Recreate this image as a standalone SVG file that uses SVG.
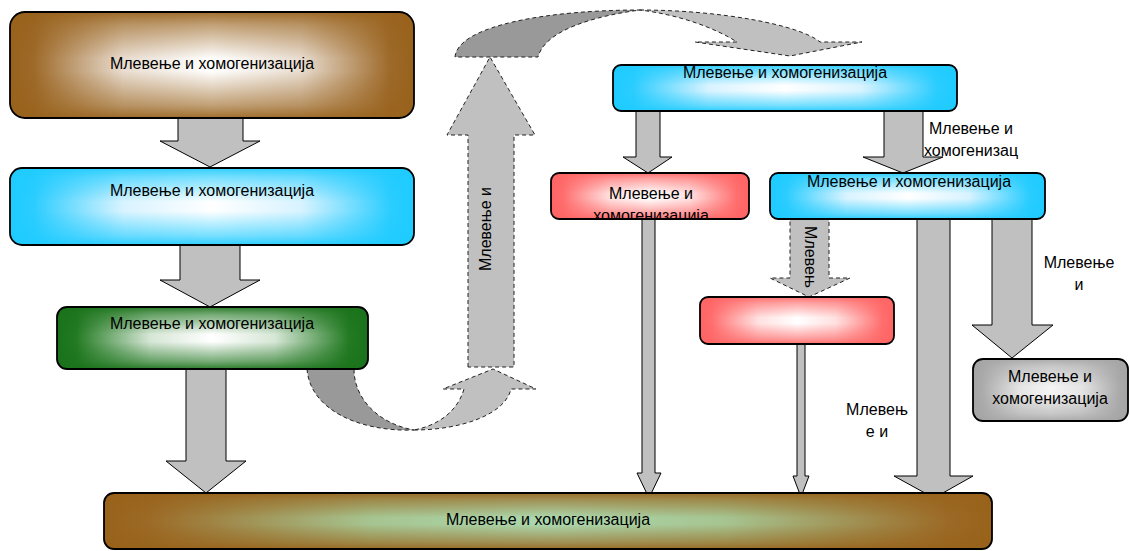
<svg xmlns="http://www.w3.org/2000/svg" width="1129" height="551" viewBox="0 0 1129 551">
<defs>
<linearGradient id="hBrown" x1="0" y1="0" x2="1" y2="0"><stop offset="0" stop-color="#98621c"/><stop offset="0.06" stop-color="#9e6a2a"/><stop offset="0.28" stop-color="#e8dccf"/><stop offset="0.5" stop-color="#ffffff"/><stop offset="0.72" stop-color="#e8dccf"/><stop offset="0.94" stop-color="#9e6a2a"/><stop offset="1" stop-color="#98621c"/></linearGradient>
<linearGradient id="vBrown" x1="0" y1="0" x2="0" y2="1"><stop offset="0" stop-color="#98621c" stop-opacity="0.92"/><stop offset="0.12" stop-color="#98621c" stop-opacity="0.6"/><stop offset="0.44" stop-color="#98621c" stop-opacity="0"/><stop offset="0.56" stop-color="#98621c" stop-opacity="0"/><stop offset="0.88" stop-color="#98621c" stop-opacity="0.6"/><stop offset="1" stop-color="#98621c" stop-opacity="0.92"/></linearGradient>
<linearGradient id="hBlue" x1="0" y1="0" x2="1" y2="0"><stop offset="0" stop-color="#1ecbff"/><stop offset="0.06" stop-color="#2ccdff"/><stop offset="0.28" stop-color="#d8f3ff"/><stop offset="0.5" stop-color="#ffffff"/><stop offset="0.72" stop-color="#d8f3ff"/><stop offset="0.94" stop-color="#2ccdff"/><stop offset="1" stop-color="#1ecbff"/></linearGradient>
<linearGradient id="vBlue" x1="0" y1="0" x2="0" y2="1"><stop offset="0" stop-color="#1ecbff" stop-opacity="0.92"/><stop offset="0.12" stop-color="#1ecbff" stop-opacity="0.6"/><stop offset="0.44" stop-color="#1ecbff" stop-opacity="0"/><stop offset="0.56" stop-color="#1ecbff" stop-opacity="0"/><stop offset="0.88" stop-color="#1ecbff" stop-opacity="0.6"/><stop offset="1" stop-color="#1ecbff" stop-opacity="0.92"/></linearGradient>
<linearGradient id="hGreen" x1="0" y1="0" x2="1" y2="0"><stop offset="0" stop-color="#1a721a"/><stop offset="0.06" stop-color="#227a22"/><stop offset="0.3" stop-color="#d6e6d6"/><stop offset="0.5" stop-color="#ffffff"/><stop offset="0.7" stop-color="#d6e6d6"/><stop offset="0.94" stop-color="#227a22"/><stop offset="1" stop-color="#1a721a"/></linearGradient>
<linearGradient id="vGreen" x1="0" y1="0" x2="0" y2="1"><stop offset="0" stop-color="#1a721a" stop-opacity="0.92"/><stop offset="0.12" stop-color="#1a721a" stop-opacity="0.6"/><stop offset="0.44" stop-color="#1a721a" stop-opacity="0"/><stop offset="0.56" stop-color="#1a721a" stop-opacity="0"/><stop offset="0.88" stop-color="#1a721a" stop-opacity="0.6"/><stop offset="1" stop-color="#1a721a" stop-opacity="0.92"/></linearGradient>
<linearGradient id="hRed" x1="0" y1="0" x2="1" y2="0"><stop offset="0" stop-color="#ff6464"/><stop offset="0.06" stop-color="#ff6e6e"/><stop offset="0.3" stop-color="#ffe0e0"/><stop offset="0.5" stop-color="#ffffff"/><stop offset="0.7" stop-color="#ffe0e0"/><stop offset="0.94" stop-color="#ff6e6e"/><stop offset="1" stop-color="#ff6464"/></linearGradient>
<linearGradient id="vRed" x1="0" y1="0" x2="0" y2="1"><stop offset="0" stop-color="#ff6464" stop-opacity="0.92"/><stop offset="0.12" stop-color="#ff6464" stop-opacity="0.6"/><stop offset="0.44" stop-color="#ff6464" stop-opacity="0"/><stop offset="0.56" stop-color="#ff6464" stop-opacity="0"/><stop offset="0.88" stop-color="#ff6464" stop-opacity="0.6"/><stop offset="1" stop-color="#ff6464" stop-opacity="0.92"/></linearGradient>
<linearGradient id="hGray" x1="0" y1="0" x2="1" y2="0"><stop offset="0" stop-color="#a4a4a4"/><stop offset="0.06" stop-color="#ababab"/><stop offset="0.3" stop-color="#e4e4e4"/><stop offset="0.5" stop-color="#f4f4f4"/><stop offset="0.7" stop-color="#e4e4e4"/><stop offset="0.94" stop-color="#ababab"/><stop offset="1" stop-color="#a4a4a4"/></linearGradient>
<linearGradient id="vGray" x1="0" y1="0" x2="0" y2="1"><stop offset="0" stop-color="#a4a4a4" stop-opacity="0.9"/><stop offset="0.12" stop-color="#a4a4a4" stop-opacity="0.55"/><stop offset="0.44" stop-color="#a4a4a4" stop-opacity="0"/><stop offset="0.56" stop-color="#a4a4a4" stop-opacity="0"/><stop offset="0.88" stop-color="#a4a4a4" stop-opacity="0.55"/><stop offset="1" stop-color="#a4a4a4" stop-opacity="0.9"/></linearGradient>
<linearGradient id="hBottom" x1="0" y1="0" x2="1" y2="0"><stop offset="0" stop-color="#98621a"/><stop offset="0.05" stop-color="#9c6a26"/><stop offset="0.3" stop-color="#a6c490"/><stop offset="0.5" stop-color="#acd8ae"/><stop offset="0.7" stop-color="#a6c490"/><stop offset="0.95" stop-color="#9c6a26"/><stop offset="1" stop-color="#98621a"/></linearGradient>
<linearGradient id="vBottom" x1="0" y1="0" x2="0" y2="1"><stop offset="0" stop-color="#98621a" stop-opacity="0.9"/><stop offset="0.12" stop-color="#98621a" stop-opacity="0.6"/><stop offset="0.44" stop-color="#98621a" stop-opacity="0"/><stop offset="0.56" stop-color="#98621a" stop-opacity="0"/><stop offset="0.88" stop-color="#98621a" stop-opacity="0.6"/><stop offset="1" stop-color="#98621a" stop-opacity="0.9"/></linearGradient>
<clipPath id="clipRed1"><rect x="551" y="173" width="198" height="46" rx="8"/></clipPath>
</defs>
<style>
.box{fill:none;stroke:#000;stroke-width:1.8}
.t{font-family:"Liberation Sans",Arial,sans-serif;font-size:16px;fill:#000;text-anchor:middle}
.arr{fill:#c0c0c0;stroke:#000;stroke-width:1}
.darr{fill:#c0c0c0;stroke:#222;stroke-width:1;stroke-dasharray:4,3}
.ddark{fill:#999999;stroke:#222;stroke-width:1;stroke-dasharray:4,3}
</style>

<g id="connectors">
  <polygon class="arr" points="178,118 243,118 243,141 260,141 210,167 160,141 178,141"/>
  <polygon class="arr" points="180,245 240,245 240,280 260,280 210,307 160,280 180,280"/>
  <polygon class="arr" points="186,369 226,369 226,461 246,461 206,493 166,461 186,461"/>
  <g id="curve-up">
    <path class="ddark" d="M307,369 C310,410 360,432 414,430 C380,424 354,400 354,369 Z"/>
    <path class="darr" d="M414,430 C460,430 505,415 511,389 L536,389 L493,369 L443,389 L464,389 C458,410 440,425 414,430 Z"/>
  </g>
  <g id="dashed-up">
    <polygon class="darr" points="468,367 468,135 447,135 490,57 535,135 514,135 514,367"/>
    <text class="t" transform="translate(491,229) rotate(-90)">Млевење и</text>
  </g>
  <g id="curve-down">
    <path class="ddark" d="M455,57 C458,25 550,10 640,10 C595,16 545,30 538,57 Z"/>
    <path class="darr" d="M640,10 C720,10 800,25 820,42 L862,42 L790,56 L695,42 L737,42 C715,28 680,15 640,10 Z"/>
  </g>
  <polygon class="arr" points="636,111 660,111 660,157 672,157 648,173 623,157 636,157"/>
  <polygon class="arr" points="884,111 923,111 923,157 943,157 903,173 863,157 884,157"/>
  <text class="t" x="971" y="134">Млевење и</text>
  <text class="t" x="971" y="156">хомогенизац</text>
  <polygon class="arr" points="642,219 655,219 655,473 661,473 649,498 637,473 642,473"/>
  <g id="dashed-down">
    <polygon class="darr" points="790,219 829,219 829,278 850,278 809,297 770,278 790,278"/>
    <text class="t" transform="translate(805,257) rotate(90)">Млевењ</text>
  </g>
  <polygon class="arr" points="797,344 805,344 805,476 809,476 801,497 793,476 797,476"/>
  <polygon class="arr" points="917,219 950,219 950,476 973,476 934,498 894,476 917,476"/>
  <text class="t" x="877" y="415">Млевењ</text>
  <text class="t" x="877" y="437">е и</text>
  <polygon class="arr" points="992,219 1032,219 1032,325 1053,325 1012,358 972,325 992,325"/>
  <text class="t" x="1079" y="268">Млевење</text>
  <text class="t" x="1079" y="290">и</text>
</g>

<g id="node1">
  <rect x="10" y="12" width="404" height="106" rx="15" fill="url(#hBrown)"/>
  <rect x="10" y="12" width="404" height="106" rx="15" fill="url(#vBrown)"/>
  <rect class="box" x="10" y="12" width="404" height="106" rx="15"/>
  <text class="t" x="212" y="69">Млевење и хомогенизација</text>
</g>
<g id="node2">
  <rect x="10" y="168" width="404" height="77" rx="12" fill="url(#hBlue)"/>
  <rect x="10" y="168" width="404" height="77" rx="12" fill="url(#vBlue)"/>
  <rect class="box" x="10" y="168" width="404" height="77" rx="12"/>
  <text class="t" x="212" y="196">Млевење и хомогенизација</text>
</g>
<g id="node3">
  <rect x="57" y="307" width="311" height="62" rx="10" fill="url(#hGreen)"/>
  <rect x="57" y="307" width="311" height="62" rx="10" fill="url(#vGreen)"/>
  <rect class="box" x="57" y="307" width="311" height="62" rx="10"/>
  <text class="t" x="212" y="329">Млевење и хомогенизација</text>
</g>
<g id="node4">
  <rect x="613" y="65" width="344" height="46" rx="8" fill="url(#hBlue)"/>
  <rect x="613" y="65" width="344" height="46" rx="8" fill="url(#vBlue)"/>
  <rect class="box" x="613" y="65" width="344" height="46" rx="8"/>
  <text class="t" x="785" y="78">Млевење и хомогенизација</text>
</g>
<g id="node5">
  <rect x="551" y="173" width="198" height="46" rx="8" fill="url(#hRed)"/>
  <rect x="551" y="173" width="198" height="46" rx="8" fill="url(#vRed)"/>
  <rect class="box" x="551" y="173" width="198" height="46" rx="8"/>
  <g clip-path="url(#clipRed1)">
    <text class="t" x="651" y="199">Млевење и</text>
    <text class="t" x="651" y="221">хомогенизација</text>
  </g>
</g>
<g id="node6">
  <rect x="770" y="173" width="275" height="46" rx="8" fill="url(#hBlue)"/>
  <rect x="770" y="173" width="275" height="46" rx="8" fill="url(#vBlue)"/>
  <rect class="box" x="770" y="173" width="275" height="46" rx="8"/>
  <text class="t" x="909" y="187">Млевење и хомогенизација</text>
</g>
<g id="node7">
  <rect x="700" y="297" width="194" height="47" rx="8" fill="url(#hRed)"/>
  <rect x="700" y="297" width="194" height="47" rx="8" fill="url(#vRed)"/>
  <rect class="box" x="700" y="297" width="194" height="47" rx="8"/>
</g>
<g id="node8">
  <rect x="973" y="359" width="155" height="62" rx="10" fill="url(#hGray)"/>
  <rect x="973" y="359" width="155" height="62" rx="10" fill="url(#vGray)"/>
  <rect class="box" x="973" y="359" width="155" height="62" rx="10"/>
  <text class="t" x="1050" y="382">Млевење и</text>
  <text class="t" x="1050" y="404">хомогенизација</text>
</g>
<g id="node9">
  <rect x="104" y="493" width="888" height="56" rx="10" fill="url(#hBottom)"/>
  <rect x="104" y="493" width="888" height="56" rx="10" fill="url(#vBottom)"/>
  <rect class="box" x="104" y="493" width="888" height="56" rx="10"/>
  <text class="t" x="548" y="525">Млевење и хомогенизација</text>
</g>
</svg>
